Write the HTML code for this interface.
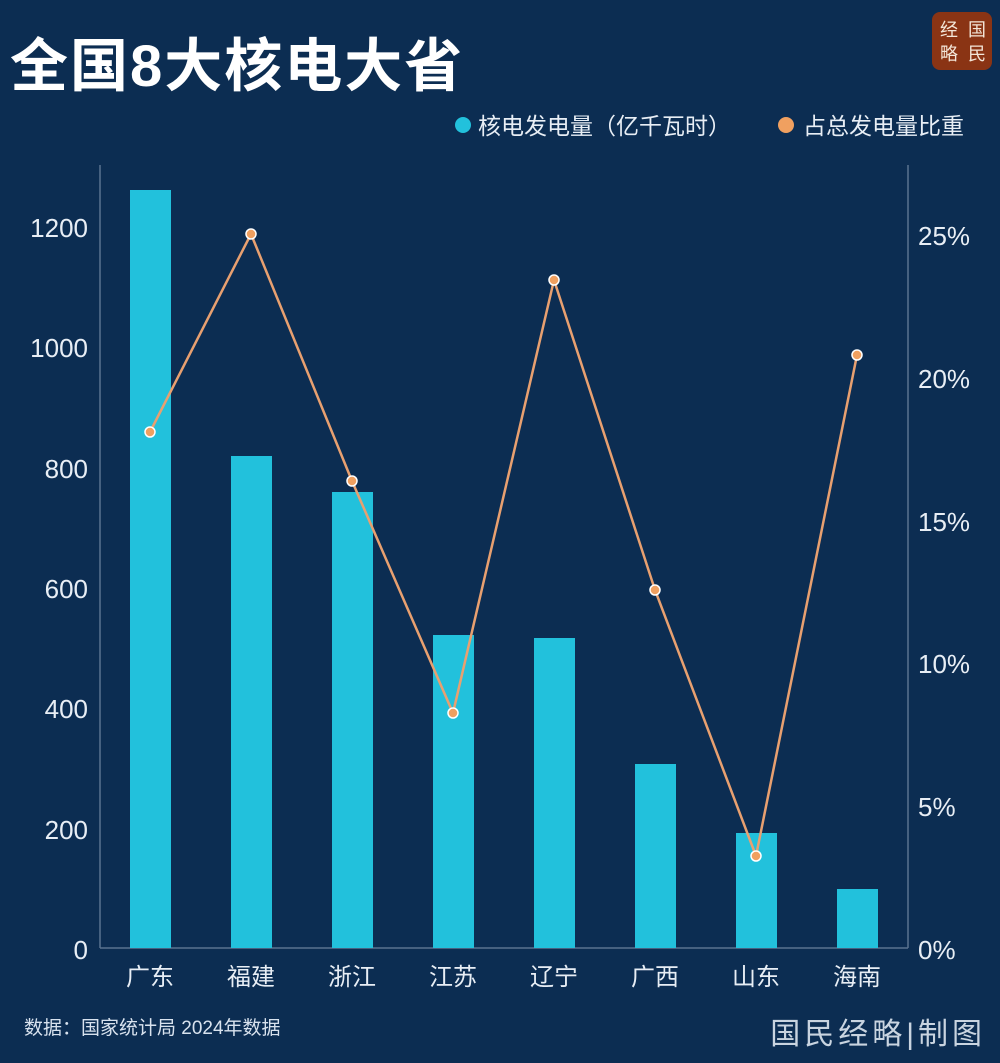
<!DOCTYPE html>
<html><head><meta charset="utf-8"><style>
html,body{margin:0;padding:0;background:#0c2d52;}
svg{display:block;}
text{font-family:"Liberation Sans","Noto Sans CJK SC",sans-serif;}
</style></head><body>
<svg width="1000" height="1063" viewBox="0 0 1000 1063" xmlns="http://www.w3.org/2000/svg">
<rect width="1000" height="1063" fill="#0c2d52"/>
<text x="10" y="86" font-size="58" font-weight="bold" fill="#ffffff" letter-spacing="2" font-family="'Noto Sans CJK SC',sans-serif">全国8大核电大省</text>
<rect x="932" y="12" width="60" height="58" rx="8" fill="#8a3414"/>
<text x="977" y="36" font-size="18" fill="#f3e6d8" text-anchor="middle" font-family="'Noto Serif CJK SC',serif">国</text>
<text x="949" y="36" font-size="18" fill="#f3e6d8" text-anchor="middle" font-family="'Noto Serif CJK SC',serif">经</text>
<text x="977" y="60" font-size="18" fill="#f3e6d8" text-anchor="middle" font-family="'Noto Serif CJK SC',serif">民</text>
<text x="949" y="60" font-size="18" fill="#f3e6d8" text-anchor="middle" font-family="'Noto Serif CJK SC',serif">略</text>
<circle cx="463" cy="125" r="8" fill="#22c1dc"/>
<text x="478" y="134" font-size="23" fill="#e8eef5">核电发电量（亿千瓦时）</text>
<circle cx="786" cy="125" r="8" fill="#f0a060"/>
<text x="803" y="134" font-size="23" fill="#e8eef5">占总发电量比重</text>
<line x1="100" y1="165" x2="100" y2="948" stroke="#5a7390" stroke-width="1.5"/>
<line x1="908" y1="165" x2="908" y2="948" stroke="#5a7390" stroke-width="1.5"/>
<line x1="100" y1="948" x2="908" y2="948" stroke="#5a7390" stroke-width="1.5"/>
<g font-size="26" fill="#e8eef5" text-anchor="end">
<text x="88" y="959">0</text><text x="88" y="839">200</text><text x="88" y="718">400</text>
<text x="88" y="598">600</text><text x="88" y="478">800</text><text x="88" y="357">1000</text><text x="88" y="237">1200</text>
</g>
<g font-size="26" fill="#e8eef5">
<text x="918" y="959">0%</text><text x="918" y="816">5%</text><text x="918" y="673">10%</text>
<text x="918" y="531">15%</text><text x="918" y="388">20%</text><text x="918" y="245">25%</text>
</g>
<g fill="#22c1dc">
<rect x="130" y="190" width="41" height="758"/>
<rect x="231" y="456" width="41" height="492"/>
<rect x="332" y="492" width="41" height="456"/>
<rect x="433" y="635" width="41" height="313"/>
<rect x="534" y="638" width="41" height="310"/>
<rect x="635" y="764" width="41" height="184"/>
<rect x="736" y="833" width="41" height="115"/>
<rect x="837" y="889" width="41" height="59"/>
</g>
<polyline points="150,432 251,234 352,481 453,713 554,280 655,590 756,856 857,355" fill="none" stroke="#e8a070" stroke-width="2.5"/>
<g fill="#f0a060" stroke="#ffffff" stroke-width="1.5">
<circle cx="150" cy="432" r="5"/><circle cx="251" cy="234" r="5"/><circle cx="352" cy="481" r="5"/><circle cx="453" cy="713" r="5"/>
<circle cx="554" cy="280" r="5"/><circle cx="655" cy="590" r="5"/><circle cx="756" cy="856" r="5"/><circle cx="857" cy="355" r="5"/>
</g>
<g font-size="24" fill="#e8eef5" text-anchor="middle">
<text x="150" y="985">广东</text><text x="251" y="985">福建</text><text x="352" y="985">浙江</text><text x="453" y="985">江苏</text>
<text x="554" y="985">辽宁</text><text x="655" y="985">广西</text><text x="756" y="985">山东</text><text x="857" y="985">海南</text>
</g>
<text x="24" y="1034" font-size="19" fill="#d8e2ee">数据：国家统计局 2024年数据</text>
<text x="986" y="1044" font-size="30" fill="#c9d4e0" text-anchor="end" font-family="'Noto Serif CJK SC',serif" letter-spacing="4">国民经略|制图</text>
</svg>
</body></html>
